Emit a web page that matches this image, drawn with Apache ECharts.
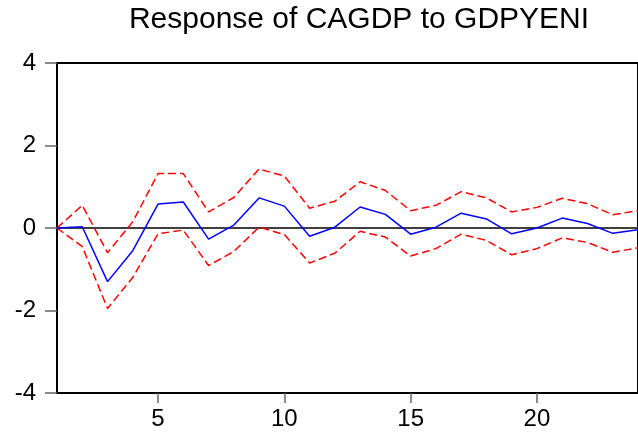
<!DOCTYPE html>
<html>
<head>
<meta charset="utf-8">
<script src="https://cdn.jsdelivr.net/npm/echarts@6/dist/echarts.min.js"></script>
<style>html,body{margin:0;padding:0;background:#fff;}#c{width:638px;height:438px;}</style>
</head>
<body>
<div id="c"></div>
<script>
var titleText = 'Response of CAGDP to GDPYENI';
var periods = ['1','2','3','4','5','6','7','8','9','10','11','12','13','14','15','16','17','18','19','20','21','22','23','24'];
var xTickLabels = ['5','10','15','20'];
var yTicks = [-4, -2, 0, 2, 4];
var response = [0, 0.03, -1.3, -0.55, 0.58, 0.63, -0.27, 0.07, 0.73, 0.53, -0.2, 0.02, 0.51, 0.33, -0.15, 0.02, 0.36, 0.22, -0.14, 0.0, 0.24, 0.11, -0.13, -0.04];
var upperBand = [0, 0.55, -0.6, 0.15, 1.32, 1.32, 0.39, 0.74, 1.43, 1.26, 0.48, 0.65, 1.12, 0.91, 0.42, 0.55, 0.88, 0.73, 0.39, 0.5, 0.72, 0.59, 0.32, 0.42];
var lowerBand = [0, -0.45, -1.95, -1.2, -0.14, -0.05, -0.91, -0.57, 0.02, -0.16, -0.85, -0.61, -0.08, -0.22, -0.68, -0.5, -0.15, -0.3, -0.65, -0.5, -0.24, -0.35, -0.59, -0.48];

var chart = echarts.init(document.getElementById('c'), null, {renderer: 'canvas'});
var FONT = '"Liberation Sans", Arial, sans-serif';
function showLabel(idx, val) { return xTickLabels.indexOf(String(val)) >= 0; }
var option = {
  animation: false,
  backgroundColor: '#fff',
  title: {
    text: titleText,
    left: 354, top: 0, textAlign: 'center',
    textStyle: {fontFamily: FONT, fontSize: 30, fontWeight: 'normal', color: '#000'}
  },
  grid: {left: 57, top: 63, width: 589, height: 330, show: true, borderColor: '#000', borderWidth: 2, backgroundColor: 'transparent'},
  xAxis: {
    type: 'category', data: periods, boundaryGap: false,
    axisLine: {onZero: false, lineStyle: {color: '#000', width: 2}},
    axisTick: {show: true, length: 10, interval: showLabel, lineStyle: {color: '#666', width: 1.5}},
    axisLabel: {interval: showLabel, margin: 14, fontFamily: FONT, fontSize: 24, color: '#000'},
    splitLine: {show: false}
  },
  yAxis: {
    type: 'value', min: yTicks[0], max: yTicks[yTicks.length - 1], interval: 2,
    axisLine: {show: true, onZero: false, lineStyle: {color: '#000', width: 2}},
    axisTick: {show: true, length: 12, lineStyle: {color: '#666', width: 1.5}},
    axisLabel: {margin: 21, fontFamily: FONT, fontSize: 24, color: '#000'},
    splitLine: {show: false}
  },
  series: [
    {type: 'line', data: upperBand, symbol: 'none', lineStyle: {color: '#ff0000', width: 1.5, type: [8, 4]}, z: 3},
    {type: 'line', data: lowerBand, symbol: 'none', lineStyle: {color: '#ff0000', width: 1.5, type: [8, 4]}, z: 3},
    {type: 'line', data: response, symbol: 'none', lineStyle: {color: '#0000ff', width: 1.5}, z: 4,
     markLine: {silent: true, symbol: 'none', label: {show: false}, lineStyle: {color: '#000', width: 1.5, type: 'solid'}, data: [{yAxis: 0}], z: 2}}
  ]
};
chart.setOption(option);
</script>
</body>
</html>
